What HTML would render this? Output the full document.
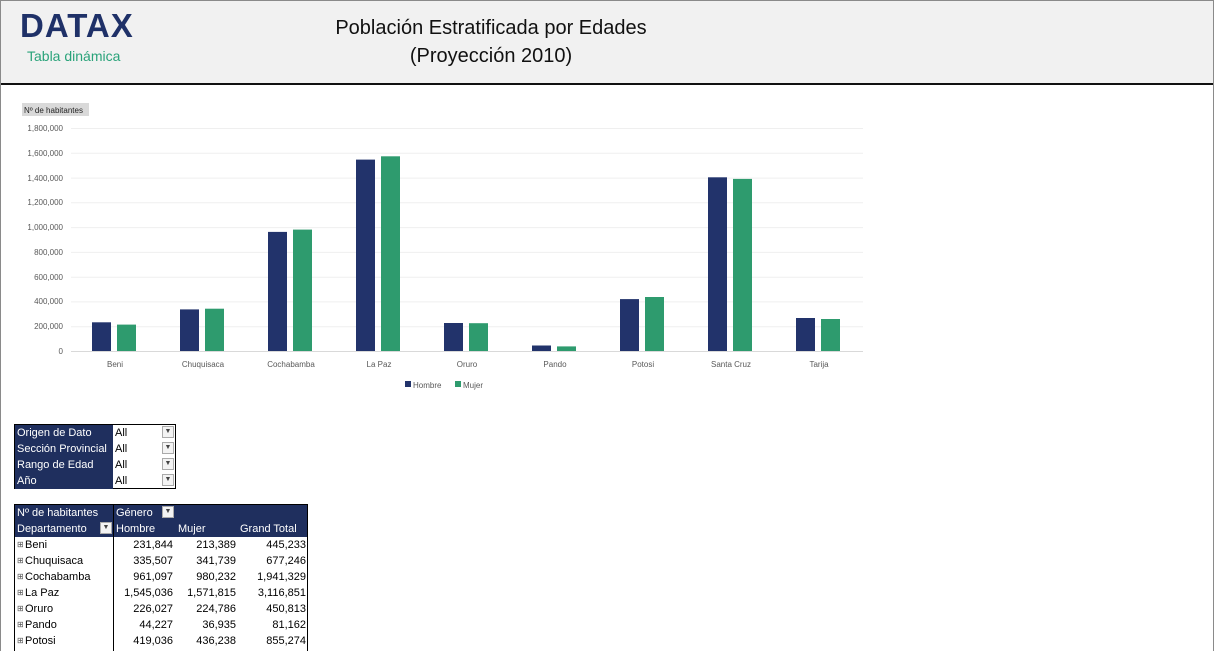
<!DOCTYPE html>
<html><head><meta charset="utf-8"><style>
*{margin:0;padding:0;box-sizing:border-box}
body{width:1214px;height:651px;overflow:hidden;background:#fff;font-family:"Liberation Sans",sans-serif;position:relative}
#frame{position:absolute;left:0;top:0;width:1214px;height:651px;border:1px solid #8a8a8a;border-bottom:none}
#hdr{position:absolute;left:1px;top:1px;width:1212px;height:84px;background:#f1f1f1;border-bottom:2px solid #111}
.logo{position:absolute;left:19px;top:6px;font-size:33px;font-weight:bold;color:#1f3168;letter-spacing:1px}
.sub{position:absolute;left:26px;top:47px;font-size:14px;color:#2aa37a}
.title{position:absolute;left:290px;width:400px;text-align:center;font-size:20px;color:#111}
.t{position:absolute;font-size:11px;line-height:16px;white-space:nowrap}
.blue{background:#1f2f5e;color:#fff}
.r{text-align:right}
.dd{position:absolute;width:12px;height:12px;background:#f3f3f3;border:1px solid #aaa;font-size:7px;line-height:10px;text-align:center;color:#444}
.row{height:16px;line-height:16px}
.pm{display:inline-block;width:8px;font-size:8px;line-height:16px;vertical-align:top;color:#555}
</style></head><body>
<div id="frame"></div>
<div id="hdr">
<div class="logo">DATAX</div>
<div class="sub">Tabla dinámica</div>
<div class="title" style="top:16px">Población Estratificada por Edades</div>
<div class="title" style="top:44px">(Proyección 2010)</div>
</div>
<svg style="position:absolute;left:0;top:0" width="1214" height="420" font-family="Liberation Sans, sans-serif">
<rect x="22" y="103" width="67" height="13" fill="#d9d9d9"/>
<text x="24" y="113" font-size="8" fill="#222">Nº de habitantes</text>
<g stroke="#efefef" stroke-width="1">
<line x1="71" x2="863" y1="128.5" y2="128.5"/><line x1="71" x2="863" y1="153.3" y2="153.3"/><line x1="71" x2="863" y1="178.1" y2="178.1"/><line x1="71" x2="863" y1="202.8" y2="202.8"/><line x1="71" x2="863" y1="227.6" y2="227.6"/><line x1="71" x2="863" y1="252.4" y2="252.4"/><line x1="71" x2="863" y1="277.2" y2="277.2"/><line x1="71" x2="863" y1="301.9" y2="301.9"/><line x1="71" x2="863" y1="326.7" y2="326.7"/>
</g>
<line x1="71" x2="863" y1="351.5" y2="351.5" stroke="#d9d9d9"/>
<g font-size="8" fill="#595959" text-anchor="end">
<text x="63" y="131">1,800,000</text><text x="63" y="156">1,600,000</text><text x="63" y="181">1,400,000</text><text x="63" y="205">1,200,000</text><text x="63" y="230">1,000,000</text><text x="63" y="255">800,000</text><text x="63" y="280">600,000</text><text x="63" y="304">400,000</text><text x="63" y="329">200,000</text><text x="63" y="354">0</text>
</g>
<g fill="#22336b">
<rect x="92" y="322.3" width="19" height="28.7"/><rect x="180" y="309.4" width="19" height="41.6"/><rect x="268" y="231.9" width="19" height="119.1"/><rect x="356" y="159.6" width="19" height="191.4"/><rect x="444" y="323" width="19" height="28"/><rect x="532" y="345.5" width="19" height="5.5"/><rect x="620" y="299.1" width="19" height="51.9"/><rect x="708" y="177.3" width="19" height="173.7"/><rect x="796" y="318" width="19" height="33"/>
</g>
<g fill="#2e9b6e">
<rect x="117" y="324.6" width="19" height="26.4"/><rect x="205" y="308.7" width="19" height="42.3"/><rect x="293" y="229.6" width="19" height="121.4"/><rect x="381" y="156.3" width="19" height="194.7"/><rect x="469" y="323.2" width="19" height="27.8"/><rect x="557" y="346.4" width="19" height="4.6"/><rect x="645" y="297" width="19" height="54"/><rect x="733" y="178.9" width="19" height="172.1"/><rect x="821" y="319" width="19" height="32"/>
</g>
<g font-size="8" fill="#595959" text-anchor="middle">
<text x="115" y="367">Beni</text><text x="203" y="367">Chuquisaca</text><text x="291" y="367">Cochabamba</text><text x="379" y="367">La Paz</text><text x="467" y="367">Oruro</text><text x="555" y="367">Pando</text><text x="643" y="367">Potosi</text><text x="731" y="367">Santa Cruz</text><text x="819" y="367">Tarija</text>
</g>
<rect x="405" y="381" width="6" height="6" fill="#22336b"/><text x="413" y="388" font-size="8" fill="#595959">Hombre</text>
<rect x="455" y="381" width="6" height="6" fill="#2e9b6e"/><text x="463" y="388" font-size="8" fill="#595959">Mujer</text>
</svg>

<div style="position:absolute;left:14px;top:424px;width:162px;height:65px;border:1px solid #000;background:#fff"></div>
<div class="t blue" style="left:15px;top:425px;width:98px;height:64px;padding-left:2px">Origen de Dato<br>Sección Provincial<br>Rango de Edad<br>Año</div>
<div class="t" style="left:115px;top:425px">All<br>All<br>All<br>All</div>
<div class="dd" style="left:162px;top:426px">▼</div><div class="dd" style="left:162px;top:442px">▼</div><div class="dd" style="left:162px;top:458px">▼</div><div class="dd" style="left:162px;top:474px">▼</div>

<div style="position:absolute;left:14px;top:504px;width:294px;height:147px;border:1px solid #000;border-bottom:none"></div>
<div class="blue" style="position:absolute;left:15px;top:505px;width:292px;height:32px"></div>
<div style="position:absolute;left:113px;top:505px;width:1px;height:146px;background:#000"></div>
<div class="t" style="left:17px;top:505px;color:#fff">Nº de habitantes</div>
<div class="t" style="left:116px;top:505px;color:#fff">Género</div>
<div class="dd" style="left:162px;top:506px">▼</div>
<div class="t" style="left:17px;top:521px;color:#fff">Departamento</div>
<div class="dd" style="left:100px;top:522px">▼</div>
<div class="t" style="left:116px;top:521px;color:#fff">Hombre</div>
<div class="t" style="left:178px;top:521px;color:#fff">Mujer</div>
<div class="t" style="left:240px;top:521px;color:#fff">Grand Total</div>
<div class="t" style="left:17px;top:537px">
<div class="row"><span class="pm">⊞</span>Beni</div>
<div class="row"><span class="pm">⊞</span>Chuquisaca</div>
<div class="row"><span class="pm">⊞</span>Cochabamba</div>
<div class="row"><span class="pm">⊞</span>La Paz</div>
<div class="row"><span class="pm">⊞</span>Oruro</div>
<div class="row"><span class="pm">⊞</span>Pando</div>
<div class="row"><span class="pm">⊞</span>Potosi</div>
</div>
<div class="t r" style="left:113px;top:537px;width:60px">231,844<br>335,507<br>961,097<br>1,545,036<br>226,027<br>44,227<br>419,036</div>
<div class="t r" style="left:175px;top:537px;width:61px">213,389<br>341,739<br>980,232<br>1,571,815<br>224,786<br>36,935<br>436,238</div>
<div class="t r" style="left:237px;top:537px;width:69px">445,233<br>677,246<br>1,941,329<br>3,116,851<br>450,813<br>81,162<br>855,274</div>
</body></html>
